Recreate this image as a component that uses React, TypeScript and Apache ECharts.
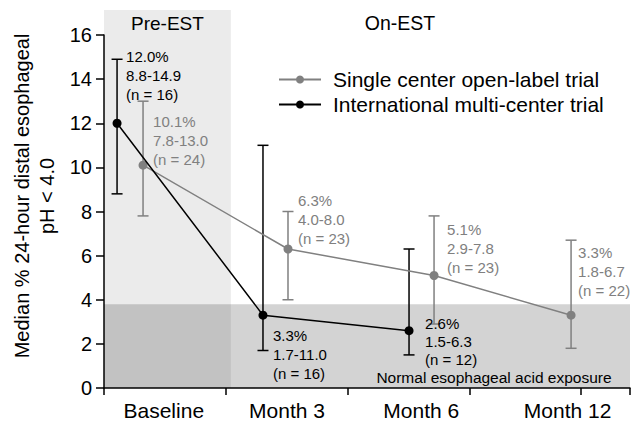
import React, { useEffect, useRef } from "react";
import * as echarts from "echarts";

// ---- data ----
const categories = ["Baseline", "Month 3", "Month 6", "Month 12"];
const categoryLabelPos = [0.49, 1.5, 2.6, 3.8];
const tickPos = [0, 1, 2, 3, 3.91, 4.311];
const yTicks = [0, 2, 4, 6, 8, 10, 12, 14, 16];

const singleName = "Single center open-label trial";
const singleX = [0.32, 1.508, 2.705, 3.828];
const singleMedian = [10.1, 6.3, 5.1, 3.3];
const singleLow = [7.8, 4.0, 2.9, 1.8];
const singleHigh = [13.0, 8.0, 7.8, 6.7];
const singleN = [24, 23, 23, 22];

const multiName = "International multi-center trial";
const multiX = [0.107, 1.303, 2.5];
const multiMedian = [12.0, 3.3, 2.6];
const multiLow = [8.8, 1.7, 1.5];
const multiHigh = [14.9, 11.0, 6.3];
const multiN = [16, 16, 12];

const normalUpper = 3.8;
const preEstEnd = 1.04;

// ---- layout / style ----
const FONT = "Liberation Sans, Arial, Helvetica, sans-serif";
const GRAY = "#808080";
const singleLabelOffset = [
  [10, -52.7, 19],
  [10, -58.5, 19],
  [13, -55, 19],
  [7, -71.7, 19],
];
const multiLabelOffset = [
  [9, -75.8, 19],
  [10, 11.3, 19],
  [16, -16.5, 18],
];

function fmt(m: number, lo: number, hi: number, n: number) {
  return `${m.toFixed(1)}%\n${lo.toFixed(1)}-${hi.toFixed(1)}\n(n = ${n})`;
}

function pointData(
  xs: number[],
  med: number[],
  lo: number[],
  hi: number[],
  ns: number[],
  offs: number[][],
  color: string
) {
  return xs.map((x, i) => ({
    value: [x, med[i]],
    label: {
      show: true,
      position: [4.5 + offs[i][0], 4.5 + offs[i][1]],
      align: "left",
      verticalAlign: "top",
      formatter: fmt(med[i], lo[i], hi[i], ns[i]),
      color,
      fontFamily: FONT,
      fontSize: 15,
      lineHeight: offs[i][2],
    },
  }));
}

function errorSeries(xs: number[], lo: number[], hi: number[], color: string) {
  return {
    type: "custom",
    z: 2,
    silent: true,
    data: xs.map((x, i) => [x, lo[i], hi[i]]),
    encode: { x: 0, y: [1, 2] },
    renderItem: (_p: any, api: any) => {
      const x = api.value(0);
      const top = api.coord([x, api.value(2)]);
      const bot = api.coord([x, api.value(1)]);
      const w = 5.5;
      const st = { stroke: color, lineWidth: 1.5 };
      return {
        type: "group",
        children: [
          { type: "line", shape: { x1: top[0], y1: top[1], x2: bot[0], y2: bot[1] }, style: st },
          { type: "line", shape: { x1: top[0] - w, y1: top[1], x2: top[0] + w, y2: top[1] }, style: st },
          { type: "line", shape: { x1: bot[0] - w, y1: bot[1], x2: bot[0] + w, y2: bot[1] }, style: st },
        ],
      };
    },
  };
}

export default function App() {
  const ref = useRef<HTMLDivElement>(null);
  useEffect(() => {
    if (!ref.current) return;
    const chart = echarts.init(ref.current, null, { renderer: "svg" });
    const option: any = {
      animation: false,
      backgroundColor: "#fff",
      grid: { left: 104, right: 2, top: 35, bottom: 35 },
      legend: {
        data: [{ name: singleName }, { name: multiName }],
        orient: "vertical",
        left: 273,
        top: 64,
        itemWidth: 42,
        itemHeight: 10,
        itemGap: 4,
        textStyle: { fontFamily: FONT, fontSize: 21, color: "#000", padding: [0, 0, 0, 7] },
      },
      xAxis: {
        type: "value",
        min: 0,
        max: tickPos[tickPos.length - 1],
        z: 10,
        splitLine: { show: false },
        axisLine: { lineStyle: { color: "#000", width: 1.5 } },
        axisTick: { show: true, customValues: tickPos, length: 7, lineStyle: { color: "#000", width: 1.5 } },
        axisLabel: {
          customValues: categoryLabelPos,
          formatter: (v: number) => {
            let best = 0;
            categoryLabelPos.forEach((p, i) => {
              if (Math.abs(p - v) < Math.abs(categoryLabelPos[best] - v)) best = i;
            });
            return categories[best];
          },
          color: "#000",
          fontFamily: FONT,
          fontSize: 21,
          margin: 12,
        },
      },
      yAxis: {
        type: "value",
        min: 0,
        max: 16,
        interval: 2,
        z: 10,
        splitLine: { show: false },
        axisLine: { show: true, lineStyle: { color: "#000", width: 1.5 } },
        axisTick: { show: true, length: 8, lineStyle: { color: "#000", width: 1.5 } },
        axisLabel: {
          color: "#000",
          fontFamily: FONT,
          fontSize: 20,
          margin: 12,
          formatter: (v: number) => (yTicks.includes(v) ? String(v) : ""),
        },
      },
      series: [
        {
          type: "line",
          name: "shading",
          z: 1,
          silent: true,
          data: [],
          markArea: {
            silent: true,
            label: { show: false },
            data: [
              [
                { xAxis: 0, yAxis: 0, itemStyle: { color: "rgba(0,0,0,0.08)" } },
                { xAxis: preEstEnd, yAxis: 16 },
              ],
              [
                { xAxis: 0, yAxis: 0, itemStyle: { color: "rgba(0,0,0,0.173)" } },
                { xAxis: tickPos[tickPos.length - 1], yAxis: normalUpper },
              ],
            ],
          },
        },
        errorSeries(singleX, singleLow, singleHigh, GRAY),
        errorSeries(multiX, multiLow, multiHigh, "#000"),
        {
          type: "line",
          name: singleName,
          z: 3,
          symbol: "circle",
          symbolSize: 9,
          color: GRAY,
          lineStyle: { color: GRAY, width: 1.5 },
          itemStyle: { color: GRAY },
          data: pointData(singleX, singleMedian, singleLow, singleHigh, singleN, singleLabelOffset, GRAY),
        },
        {
          type: "line",
          name: multiName,
          z: 4,
          symbol: "circle",
          symbolSize: 9,
          color: "#000",
          lineStyle: { color: "#000", width: 1.5 },
          itemStyle: { color: "#000" },
          data: pointData(multiX, multiMedian, multiLow, multiHigh, multiN, multiLabelOffset, "#000"),
        },
      ],
    };
    chart.setOption(option);

    const p0 = chart.convertToPixel({ gridIndex: 0 }, [0, 16]) as number[];
    const p1 = chart.convertToPixel({ gridIndex: 0 }, [preEstEnd, 16]) as number[];
    chart.setOption({
      graphic: [
        {
          type: "rect",
          z: 0,
          silent: true,
          shape: { x: p0[0], y: 10, width: p1[0] - p0[0], height: p0[1] - 10 },
          style: { fill: "rgba(0,0,0,0.08)" },
        },
        {
          type: "text",
          x: (p0[0] + p1[0]) / 2,
          y: 23,
          style: { text: "Pre-EST", fill: "#000", font: `19px ${FONT}`, align: "center", verticalAlign: "middle" },
        },
        {
          type: "text",
          x: 400,
          y: 23,
          style: { text: "On-EST", fill: "#000", font: `19.5px ${FONT}`, align: "center", verticalAlign: "middle" },
        },
        {
          type: "text",
          x: 34.5,
          y: 196,
          rotation: Math.PI / 2,
          style: {
            text: "Median % 24-hour distal esophageal\npH < 4.0",
            fill: "#000",
            font: `20px ${FONT}`,
            lineHeight: 25,
            align: "center",
            verticalAlign: "middle",
          },
        },
        {
          type: "text",
          x: 494,
          y: 377.5,
          z: 5,
          style: {
            text: "Normal esophageal acid exposure",
            fill: "#000",
            font: `15.5px ${FONT}`,
            align: "center",
            verticalAlign: "middle",
          },
        },
      ],
    });
    return () => chart.dispose();
  }, []);
  return <div ref={ref} style={{ width: 632, height: 423, position: "fixed", left: 0, top: 0 }} />;
}
